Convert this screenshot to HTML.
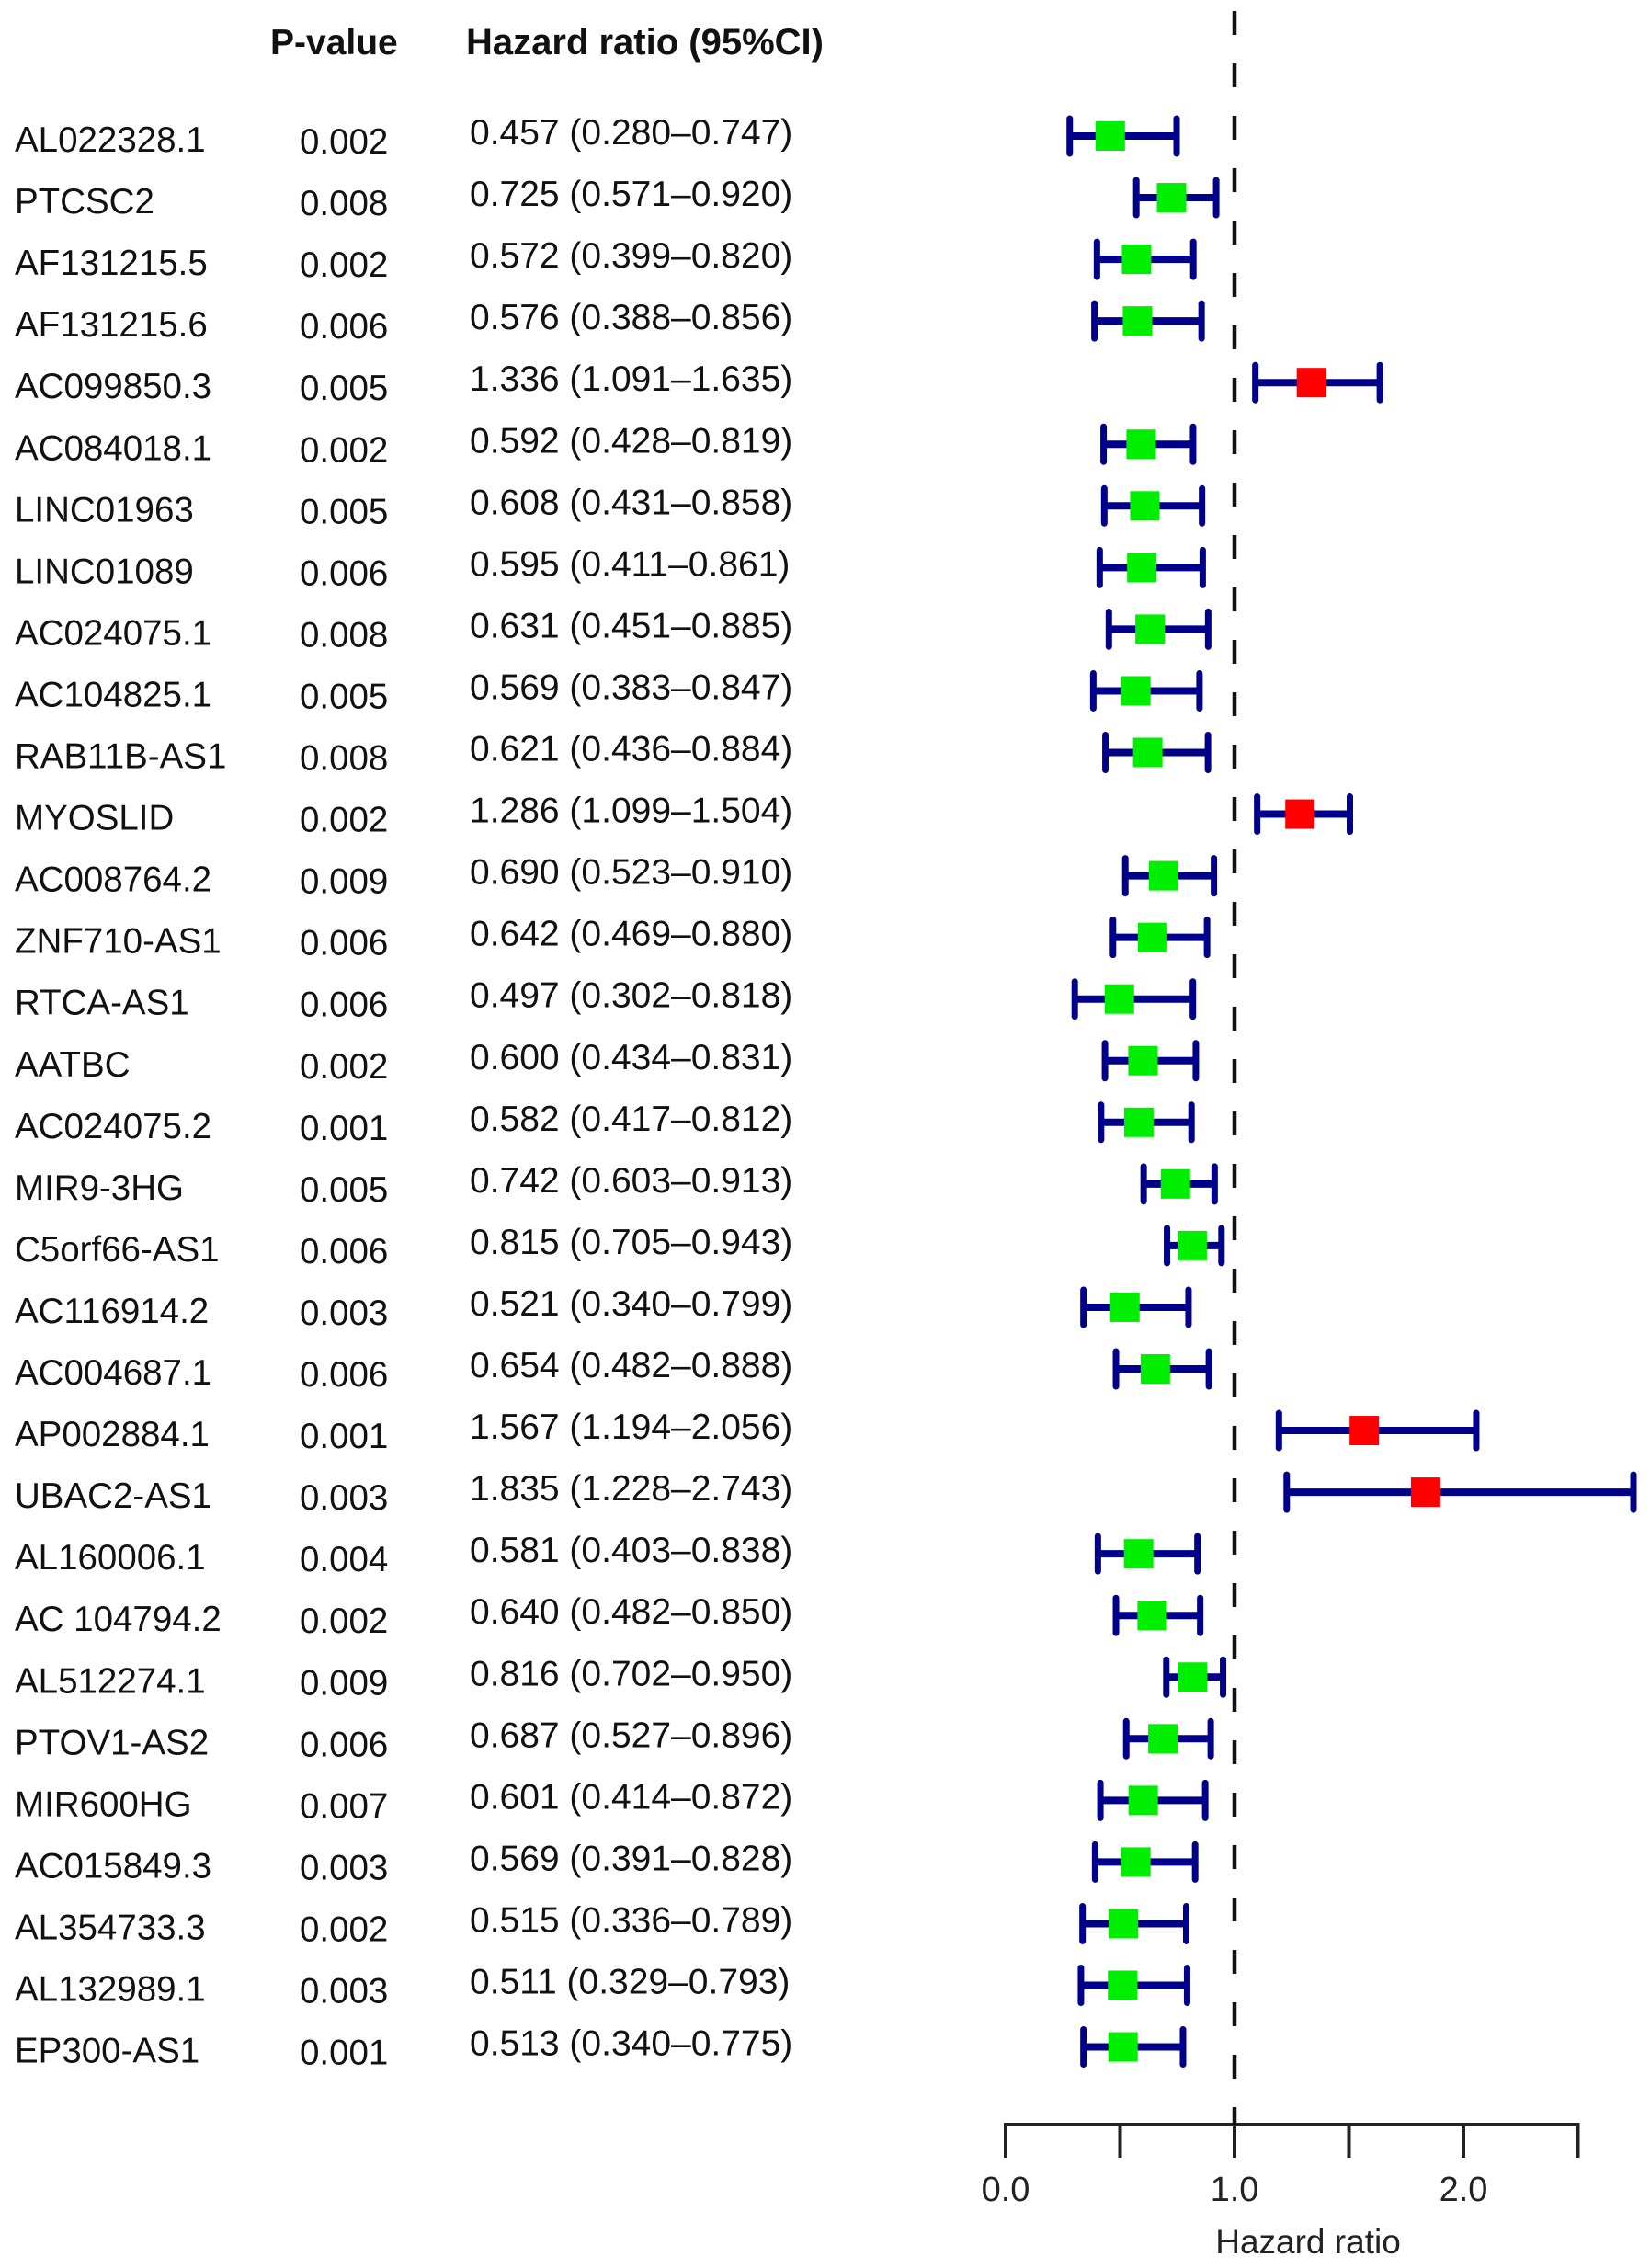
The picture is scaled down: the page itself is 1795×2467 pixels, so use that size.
<!DOCTYPE html>
<html><head><meta charset="utf-8"><style>
html,body{margin:0;padding:0;background:#fff;}
svg{display:block;font-family:"Liberation Sans",Arial,sans-serif;}
</style></head><body>
<svg id="chart" width="1795" height="2467" viewBox="0 0 1795 2467" xmlns="http://www.w3.org/2000/svg">
<text x="294" y="59" font-size="39" font-weight="bold" fill="#111">P-value</text>
<text x="507" y="59" font-size="40" font-weight="bold" fill="#111">Hazard ratio (95%CI)</text>
<g id="rows"></g>
<g id="axis"></g>
</svg>
<script>
const genes=["AL022328.1","PTCSC2","AF131215.5","AF131215.6","AC099850.3","AC084018.1","LINC01963","LINC01089","AC024075.1","AC104825.1","RAB11B-AS1","MYOSLID","AC008764.2","ZNF710-AS1","RTCA-AS1","AATBC","AC024075.2","MIR9-3HG","C5orf66-AS1","AC116914.2","AC004687.1","AP002884.1","UBAC2-AS1","AL160006.1","AC 104794.2","AL512274.1","PTOV1-AS2","MIR600HG","AC015849.3","AL354733.3","AL132989.1","EP300-AS1"];
const pvals=["0.002","0.008","0.002","0.006","0.005","0.002","0.005","0.006","0.008","0.005","0.008","0.002","0.009","0.006","0.006","0.002","0.001","0.005","0.006","0.003","0.006","0.001","0.003","0.004","0.002","0.009","0.006","0.007","0.003","0.002","0.003","0.001"];
const hr=[0.457,0.725,0.572,0.576,1.336,0.592,0.608,0.595,0.631,0.569,0.621,1.286,0.690,0.642,0.497,0.600,0.582,0.742,0.815,0.521,0.654,1.567,1.835,0.581,0.640,0.816,0.687,0.601,0.569,0.515,0.511,0.513];
const lo=[0.280,0.571,0.399,0.388,1.091,0.428,0.431,0.411,0.451,0.383,0.436,1.099,0.523,0.469,0.302,0.434,0.417,0.603,0.705,0.340,0.482,1.194,1.228,0.403,0.482,0.702,0.527,0.414,0.391,0.336,0.329,0.340];
const hi=[0.747,0.920,0.820,0.856,1.635,0.819,0.858,0.861,0.885,0.847,0.884,1.504,0.910,0.880,0.818,0.831,0.812,0.913,0.943,0.799,0.888,2.056,2.743,0.838,0.850,0.950,0.896,0.872,0.828,0.789,0.793,0.775];
const ticks=[0,0.5,1,1.5,2,2.5];
const tickLabels=["0.0","","1.0","","2.0",""];

const NS="http://www.w3.org/2000/svg";
const X0=1094, UNIT=249, Y0=148, STEP=67.05;
const xs=v=>X0+v*UNIT;
const ys=i=>Y0+i*STEP;
function mk(tag,attrs,parent){const e=document.createElementNS(NS,tag);for(const k in attrs)e.setAttribute(k,attrs[k]);parent.appendChild(e);return e;}
const svg=document.getElementById('chart');
const rows=document.getElementById('rows');
const axis=document.getElementById('axis');

const ref=mk('line',{x1:xs(1),x2:xs(1),y1:12,y2:2311,stroke:'#111','stroke-width':4.5,'stroke-dasharray':'26 31'},svg);



genes.forEach((g,i)=>{
  const y=ys(i);
  const t1=mk('text',{x:16,y:y+17,'font-size':38.5,fill:'#111'},rows);t1.textContent=g;
  
  
  const t2=mk('text',{x:326,y:y+19,'font-size':38.5,fill:'#111'},rows);t2.textContent=pvals[i];
  
  
  const t3=mk('text',{x:511,y:y+9,'font-size':39,fill:'#111'},rows);
  t3.textContent=hr[i].toFixed(3)+" ("+lo[i].toFixed(3)+"\u2013"+hi[i].toFixed(3)+")";
  
  
  const bar=mk('line',{x1:xs(lo[i]),x2:xs(hi[i]),y1:y,y2:y,stroke:'#00008b','stroke-width':8},rows);
  
  
  [lo[i],hi[i]].forEach(v=>{
    const c=mk('line',{x1:xs(v),x2:xs(v),y1:y-19,y2:y+19,stroke:'#00008b','stroke-width':7,'stroke-linecap':'round'},rows);
    
    
  });
  const sq=mk('rect',{x:xs(hr[i])-16,y:y-16,width:32,height:32,fill:hr[i]>1?'#ff0000':'#00ee00'},rows);
  
  
});

const al=mk('line',{x1:xs(0),x2:xs(2.5),y1:2311,y2:2311,stroke:'#222','stroke-width':4},axis);


ticks.forEach((v,k)=>{
  const tk=mk('line',{x1:xs(v),x2:xs(v),y1:2309,y2:2347,stroke:'#222','stroke-width':4},axis);
  
  
  if(tickLabels[k]){
    const tl=mk('text',{x:xs(v),y:2394,'font-size':38,fill:'#222','text-anchor':'middle'},axis);
    tl.textContent=tickLabels[k];
    
    
  }
});
const xt=mk('text',{x:1423,y:2451,'font-size':37,fill:'#222','text-anchor':'middle'},axis);
xt.textContent="Hazard ratio";


</script>
</body></html>
